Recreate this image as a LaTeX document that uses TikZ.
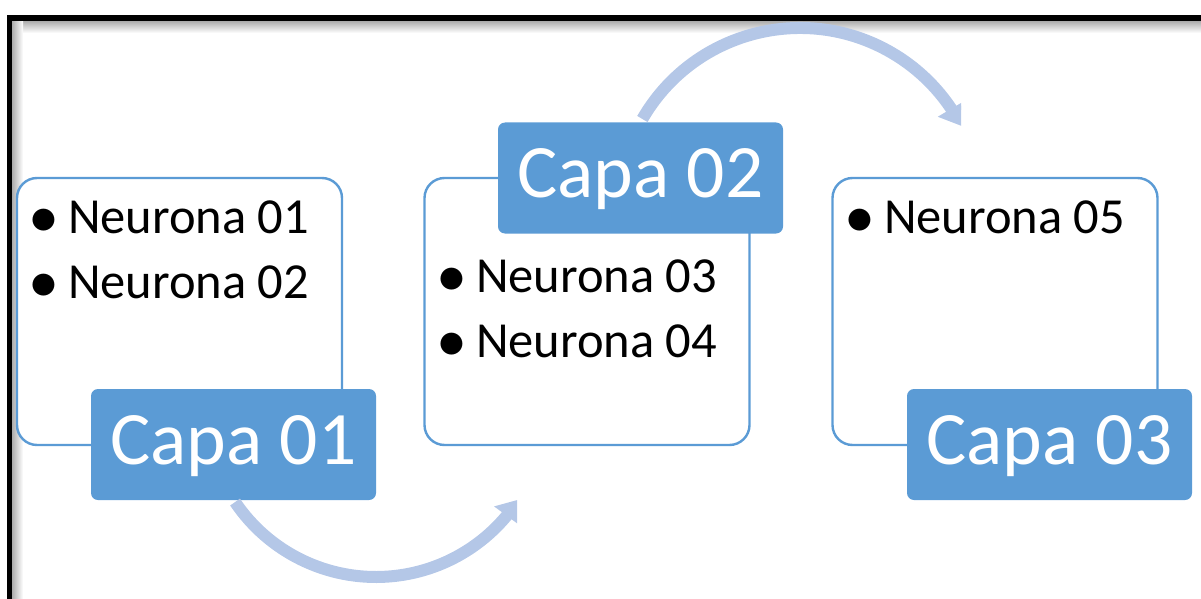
\documentclass[tikz,border=0pt]{standalone}
\usepackage{fontspec}
\setmainfont{Carlito}
\usetikzlibrary{arrows.meta,bending,calc}
\definecolor{accent}{HTML}{5B9BD5}
\definecolor{arrowblue}{HTML}{B4C7E7}
\begin{document}
\begin{tikzpicture}[x=1pt,y=-1pt,
  panel/.style={draw=accent, line width=2.4pt, fill=white, rounded corners=20pt,
    minimum width=325pt, minimum height=267pt, inner sep=0pt},
  capa/.style={fill=accent, rounded corners=7pt, minimum width=285pt, minimum height=111pt,
    inner sep=0pt, text=white, font=\fontsize{75.5pt}{90pt}\selectfont,
    text height=51pt, text depth=12pt},
  item/.style={anchor=base west, inner sep=0pt, font=\fontsize{50.5pt}{60pt}\selectfont},
  bul/.style={anchor=base, inner sep=0pt, font=\fontsize{62pt}{70pt}\selectfont},
  flow/.style={draw=arrowblue, line width=12pt, -{Triangle[width=30pt,length=20pt,flex]}}]
\useasboundingbox (0,0) rectangle (1201,599);
\clip (0,0) rectangle (1201,599);
% frame shadow and frame
\shade[top color=gray!65, bottom color=white] (12,21) rectangle (1201,33);
\shade[left color=gray!65, right color=white] (12,21) rectangle (23,599);
\draw[line width=5.5pt, line join=miter] (9.5,620) -- (9.5,18) -- (1220,18);
% panels
\node[panel] (p1) at (179.5,311.5) {};
\node[panel] (p2) at (587,311.5) {};
\node[panel] (p3) at (995,311.5) {};
% items
\node[bul] (b1) at (44,237) {\textbullet};
\node[item] (n1) at (68,233) {Neurona 01};
\node[bul] (b2) at (44,302) {\textbullet};
\node[item] (n2) at (68,298) {Neurona 02};
\node[bul] (b3) at (452,296) {\textbullet};
\node[item] (n3) at (476,292) {Neurona 03};
\node[bul] (b4) at (452,361) {\textbullet};
\node[item] (n4) at (476,357) {Neurona 04};
\node[bul] (b5) at (860,237) {\textbullet};
\node[item] (n5) at (884,233) {Neurona 05};
% layer labels
\node[capa] (c1) at (233.5,444.5) {Capa 01};
\node[capa] (c2) at (640.5,178) {Capa 02};
\node[capa] (c3) at (1049.5,444.5) {Capa 03};
% arrows
\coordinate (s1) at ($(376,407)+(146:170)$);
\coordinate (s2) at ($(800,210)+(-150:182)$);
\begin{scope}
\clip (0,0) rectangle (517,599);
\draw[flow] (s1) arc[start angle=146, end angle=33, radius=170];
\end{scope}
\begin{scope}
\clip (0,0) rectangle (961,599);
\draw[flow] (s2) arc[start angle=-150, end angle=-27.5, radius=182];
\end{scope}
\end{tikzpicture}
\end{document}
